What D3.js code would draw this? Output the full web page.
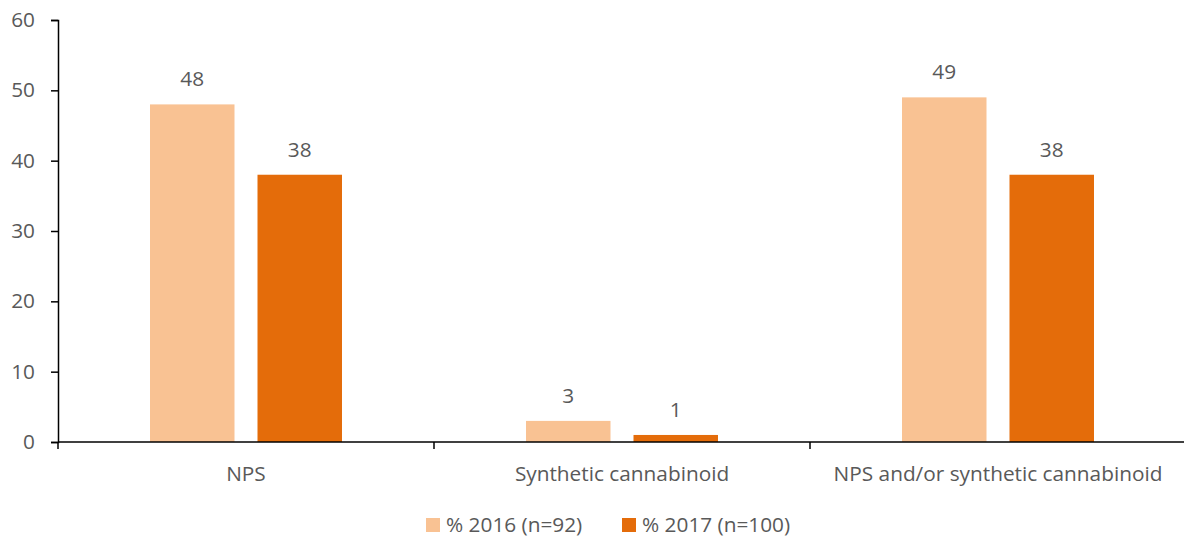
<!DOCTYPE html>
<html><head><meta charset="utf-8">
<script src="https://cdn.jsdelivr.net/npm/d3@7"></script>
<style>body{margin:0;background:#fff}svg{display:block}text{font-family:"Open Sans",sans-serif;fill:#595959}</style>
</head><body><svg id="c" width="1184" height="538"></svg>
<script>
const categories = ["NPS", "Synthetic cannabinoid", "NPS and/or synthetic cannabinoid"];
const seriesNames = ["% 2016 (n=92)", "% 2017 (n=100)"];
const values2016 = [48, 3, 49];
const values2017 = [38, 1, 38];
const yTicks = [0, 10, 20, 30, 40, 50, 60];
const colors = ["#F9C293", "#E46C0A"];

(function(){
const svg = d3.select("#c");
const mL = 58, mR = 1186, mT = 20, mB = 442;
const x = d3.scaleBand().domain(categories).range([mL, mR]);
const inner = d3.scaleBand().domain(seriesNames).range([0, x.bandwidth()]).paddingInner(0.214).paddingOuter(0.856);
const y = d3.scaleLinear().domain([0, 60]).range([mB, mT]);
const fs = 20.8;

// y axis
const ya = svg.append("g").attr("transform", `translate(${mL},0)`).call(d3.axisLeft(y).tickValues(yTicks).tickSize(7).tickPadding(16));
ya.select(".domain").attr("stroke", "#000").attr("stroke-width", 1.5);
ya.selectAll(".tick line").attr("stroke", "#000").attr("stroke-width", 1.5);
ya.selectAll(".tick text").style("font-size", fs + "px").style("fill", "#595959").style("font-family", '"Open Sans",sans-serif');

// bars
const data = [];
categories.forEach((c, i) => {
  data.push({c, s: seriesNames[0], v: values2016[i], k: 0});
  data.push({c, s: seriesNames[1], v: values2017[i], k: 1});
});
svg.append("g").selectAll("rect").data(data).join("rect")
  .attr("x", d => x(d.c) + inner(d.s))
  .attr("width", inner.bandwidth())
  .attr("y", d => y(d.v))
  .attr("height", d => y(0) - y(d.v))
  .attr("fill", d => colors[d.k]);

svg.append("g").selectAll("text").data(data).join("text")
  .attr("x", d => x(d.c) + inner(d.s) + inner.bandwidth() / 2)
  .attr("y", d => y(d.v) - 18)
  .attr("text-anchor", "middle")
  .style("font-size", fs + "px")
  .text(d => d.v);

// x axis
const xa = svg.append("g").attr("transform", `translate(0,${mB})`);
xa.append("line").attr("x1", mL).attr("x2", mR).attr("stroke", "#000").attr("stroke-width", 1.5);
const bounds = [mL].concat(categories.map(c => x(c) + x.bandwidth()));
xa.selectAll("line.t").data(bounds).join("line").attr("class", "t")
  .attr("x1", d => d).attr("x2", d => d).attr("y1", 0).attr("y2", 7)
  .attr("stroke", "#000").attr("stroke-width", 1.5);
xa.selectAll("text").data(categories).join("text")
  .attr("x", d => x(d) + x.bandwidth() / 2)
  .attr("y", 39)
  .attr("text-anchor", "middle")
  .style("font-size", fs + "px")
  .text(d => d);

// legend
const lg = svg.append("g");
const lx = [426, 622];
seriesNames.forEach((s, i) => {
  lg.append("rect").attr("x", lx[i]).attr("y", 518).attr("width", 14).attr("height", 14).attr("fill", colors[i]);
  lg.append("text").attr("x", lx[i] + 20).attr("y", 532).style("font-size", fs + "px").text(s);
});
})();
</script></body></html>
